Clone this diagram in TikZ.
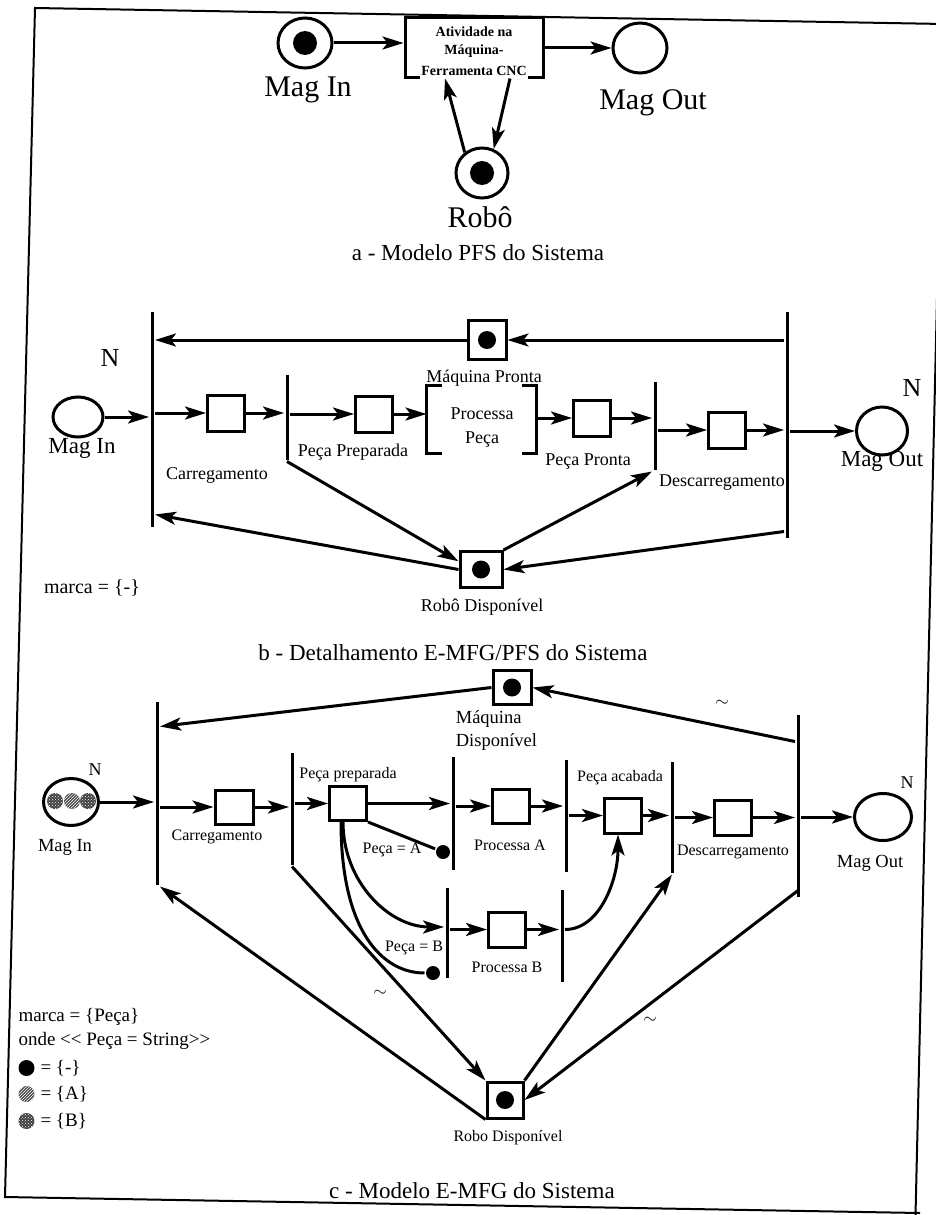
\documentclass[tikz,border=0pt]{standalone}
\usepackage{fontspec}
\setmainfont{Liberation Serif}
\usetikzlibrary{arrows.meta, shapes.geometric, patterns, positioning}

\begin{document}
\begin{tikzpicture}[x=1pt, y=-1pt, line width=3pt,
    arr/.style={-{Stealth[length=21pt, width=13pt, inset=5pt]}},
    magplace/.style={draw, ellipse, inner sep=0pt},
    cond/.style={draw, rectangle, inner sep=0pt, minimum width=37pt, minimum height=36pt},
    tbar/.style={rectangle, fill=black, inner sep=0pt, minimum width=3pt, minimum height=#1},
    tok/.style={circle, fill=black, inner sep=0pt, minimum size=#1},
    tok/.default=18pt,
    tokA/.style={circle, inner sep=0pt, minimum size=#1, fill=black!70,
      postaction={pattern=north east lines, pattern color=white}},
    tokB/.style={circle, inner sep=0pt, minimum size=#1, fill=black!75,
      postaction={pattern=crosshatch dots, pattern color=white}},
    lblA/.style={font=\fontsize{30pt}{32pt}\selectfont},
    capt/.style={font=\fontsize{23pt}{26pt}\selectfont},
    actxt/.style={font=\fontsize{14pt}{16pt}\selectfont\bfseries, inner sep=1pt},
    lblB/.style={font=\fontsize{18pt}{24pt}\selectfont},
    lblMag/.style={font=\fontsize{23pt}{26pt}\selectfont},
    lblC/.style={font=\fontsize{16pt}{18pt}\selectfont},
    lblC2/.style={font=\fontsize{18.5pt}{23pt}\selectfont},
    legtxt/.style={font=\fontsize{19pt}{22pt}\selectfont, inner sep=1pt},
    nbig/.style={font=\fontsize{26pt}{28pt}\selectfont},
    nsmall/.style={font=\fontsize{18pt}{20pt}\selectfont}]

  \useasboundingbox (0,0) rectangle (936,1215);
  \draw[line width=2pt] (944,24) -- (35,8) -- (5,1197) -- (920,1213);
  \draw[line width=2pt] (944,0) -- (915.5,1215);

  % a
  \node[magplace, minimum width=54pt, minimum height=50pt] (magInA) at (305,43) {};
  \node[tok=24pt] (magInAtk) at (magInA) {};
  \node[lblA] (magInAlbl) at (308,90) {Mag In};
  \node[draw, minimum width=138pt, minimum height=59pt] (actA) at (474,47.5) {};
  \node[actxt] (actA1) at (474,32) {Atividade na};
  \node[actxt] (actA2) at (474,51) {Máquina-};
  \node[actxt, fill=white, inner ysep=3pt, anchor=base] (actA3) at (474,76) {Ferramenta CNC};
  \node[magplace, minimum width=54pt, minimum height=50pt] (magOutA) at (640,48) {};
  \node[lblA] (magOutAlbl) at (653,103) {Mag Out};
  \node[magplace, minimum width=52pt, minimum height=50pt] (roboA) at (482,173) {};
  \node[tok=24pt] (roboAtk) at (roboA) {};
  \node[lblA] (roboAlbl) at (480,217) {Robô};
  \node[capt] (captA) at (478,253) {a - Modelo PFS do Sistema};

  \draw[arr] (magInA) -- (magInA -| actA.west);
  \draw[arr] (actA.east |- magOutA) -- (magOutA);
  \draw[arr] (roboA.130) -- ([xshift=-29pt]actA.south);
  \draw[arr] ([xshift=36pt]actA.south) -- (roboA.64);

  % b
  \node[magplace, minimum width=50pt, minimum height=40pt] (magInB) at (78,417) {};
  \node[nbig] (nInB) at (110,358) {N};
  \node[lblMag] (magInBlbl) at (82,448) {Mag In};
  \node[tbar=215pt] (t1B) at (152,419.5) {};
  \node[cond] (carB) at (226,413) {};
  \node[tbar=85pt] (t2B) at (287,417.5) {};
  \node[cond] (prepB) at (374,414) {};
  \node[minimum width=107pt, minimum height=65pt] (procB) at (481.5,419.5) {};
  \node[lblB, align=center] (procBlbl) at (482,428) {Processa\\Peça};
  \node[cond] (prontaB) at (592,418) {};
  \node[tbar=88pt] (t3B) at (655,426) {};
  \node[cond] (desB) at (727,430) {};
  \node[tbar=226pt] (t4B) at (787,425) {};
  \node[magplace, minimum width=51pt, minimum height=48pt] (magOutB) at (882,431) {};
  \node[nbig] (nOutB) at (912,388) {N};
  \node[lblMag] (magOutBlbl) at (882,461) {Mag Out};
  \node[cond, minimum width=38pt, minimum height=39pt] (maqB) at (487,340) {};
  \node[tok] (maqBtk) at (maqB) {};
  \node[lblB] (maqBlbl) at (484,378) {Máquina Pronta};
  \node[cond, minimum width=42pt, minimum height=36pt] (roboB) at (481,569.5) {};
  \node[tok] (roboBtk) at (roboB) {};
  \node[lblB] (roboBlbl) at (482,607) {Robô Disponível};
  \node[lblB] (carBlbl) at (217,475) {Carregamento};
  \node[lblB] (prepBlbl) at (353,452) {Peça Preparada};
  \node[lblB] (prontaBlbl) at (588,462) {Peça Pronta};
  \node[lblB] (desBlbl) at (722,483) {Descarregamento};
  \node[font=\fontsize{20pt}{22pt}\selectfont] (legB) at (92,588) {marca = \{-\}};
  \node[capt] (captB) at (453,653) {b - Detalhamento E-MFG/PFS do Sistema};

  \draw (procB.north west) ++(15,0) -- (procB.north west) -- (procB.south west) -- ++(15,0);
  \draw (procB.north east) ++(-15,0) -- (procB.north east) -- (procB.south east) -- ++(-15,0);

  \draw[arr] (magInB) -- (magInB -| t1B.west);
  \draw[arr] (t1B.east |- carB) -- (carB);
  \draw[arr] (carB) -- (carB -| t2B.west);
  \draw[arr] (t2B.east |- prepB) -- (prepB);
  \draw[arr] (prepB) -- (prepB -| procB.west);
  \draw[arr] (procB.east |- prontaB) -- (prontaB);
  \draw[arr] (prontaB) -- (prontaB -| t3B.west);
  \draw[arr] (t3B.east |- desB) -- (desB);
  \draw[arr] (desB) -- (desB -| t4B.west);
  \draw[arr] (t4B.east |- magOutB) -- (magOutB);
  \draw[arr] (maqB) -- (maqB -| t1B.east);
  \draw[arr] (t4B.west |- maqB) -- (maqB);
  \draw[arr] (t2B.south) -- (roboB.160);
  \draw[arr] (roboB.west) -- ([yshift=14pt]t1B.south east);
  \draw[arr] (roboB.north east) -- (t3B.south west);
  \draw[arr] ([yshift=8pt]t4B.south west) -- (roboB.east);

  % c
  \node[magplace, minimum width=55pt, minimum height=47pt] (magInC) at (71,802) {};
  \node[tokB=16pt] (tkC1) at (55,801) {};
  \node[tokA=16pt] (tkC2) at (72,801) {};
  \node[tokB=16pt] (tkC3) at (88,801) {};
  \node[nsmall] (nInC) at (95,770) {N};
  \node[lblC2] (magInClbl) at (65,847) {Mag In};
  \node[tbar=183pt] (t1C) at (157,793.5) {};
  \node[cond, minimum width=38pt, minimum height=34pt] (carC) at (234,807) {};
  \node[lblC] (carClbl) at (217,837) {Carregamento};
  \node[tbar=112pt] (t2C) at (292,809) {};
  \node[cond, minimum height=34pt] (prepC) at (348,803.5) {};
  \node[lblC] (prepClbl) at (348,775) {Peça preparada};
  \node[tbar=113pt] (t3aC) at (453,813.5) {};
  \node[cond, minimum height=34pt] (procAC) at (511,806) {};
  \node[lblC] (procAClbl) at (510,845) {Processa A};
  \node[tbar=112pt] (t4aC) at (566,816) {};
  \node[cond, minimum height=35pt] (acabC) at (623,815.5) {};
  \node[lblC] (acabClbl) at (620,778) {Peça acabada};
  \node[tbar=111pt] (t5C) at (672,817.5) {};
  \node[cond, minimum height=35pt] (desC) at (733,817.5) {};
  \node[lblC] (desClbl) at (733,852) {Descarregamento};
  \node[tbar=182pt] (t6C) at (798,806) {};
  \node[magplace, minimum width=57pt, minimum height=47pt] (magOutC) at (883,817) {};
  \node[nsmall] (nOutC) at (907,783) {N};
  \node[lblC2] (magOutClbl) at (870,863) {Mag Out};
  \node[cond, minimum width=38pt, minimum height=34pt] (maqC) at (512,687.5) {};
  \node[tok] (maqCtk) at (maqC) {};
  \node[lblC2, align=left, anchor=west] (maqClbl) at (451,731) {Máquina\\Disponível};
  \node[tbar=90pt] (t3bC) at (447,933) {};
  \node[cond, minimum height=35pt] (procBC) at (507,929.5) {};
  \node[lblC] (procBClbl) at (507,967) {Processa B};
  \node[tbar=92pt] (t4bC) at (562,936) {};
  \node[tok=14pt] (dotA) at (443,852) {};
  \node[lblC] (dotAlbl) at (392,850) {Peça = A};
  \node[tok=14pt] (dotB) at (433,973) {};
  \node[lblC] (dotBlbl) at (414,948) {Peça = B};
  \node[cond, minimum width=36pt] (roboC) at (505,1100) {};
  \node[tok] (roboCtk) at (roboC) {};
  \node[lblC] (roboClbl) at (508,1138) {Robo Disponível};
  \node[lblC] (tilde1) at (380,993) {$\sim$};
  \node[lblC] (tilde2) at (650,1020) {$\sim$};
  \node[lblC] (tilde3) at (722,703) {$\sim$};
  \node[legtxt, anchor=west] (legC1) at (16,1017) {marca = \{Peça\}};
  \node[legtxt, anchor=west] (legC2) at (16,1041) {onde <\kern0pt< Peça = String>\kern0pt>};
  \node[tok=16pt, anchor=west] (legC3m) at (17,1068) {};
  \node[legtxt, right=2pt of legC3m] (legC3) {= \{-\}};
  \node[tokA=16pt, anchor=west] (legC4m) at (17,1094) {};
  \node[legtxt, right=2pt of legC4m] (legC4) {= \{A\}};
  \node[tokB=16pt, anchor=west] (legC5m) at (17,1121) {};
  \node[legtxt, right=2pt of legC5m] (legC5) {= \{B\}};
  \node[capt] (captC) at (472,1191) {c - Modelo E-MFG do Sistema};

  \draw[arr] (magInC) -- (magInC -| t1C.west);
  \draw[arr] (t1C.east |- carC) -- (carC);
  \draw[arr] (carC) -- (carC -| t2C.west);
  \draw[arr] (t2C.east |- prepC) -- (prepC);
  \draw[arr] (prepC) -- (prepC -| t3aC.west);
  \draw[arr] (t3aC.east |- procAC) -- (procAC);
  \draw[arr] (procAC) -- (procAC -| t4aC.west);
  \draw[arr] (t4aC.east |- acabC) -- (acabC);
  \draw[arr] (acabC) -- (acabC -| t5C.west);
  \draw[arr] (t5C.east |- desC) -- (desC);
  \draw[arr] (desC) -- (desC -| t6C.west);
  \draw[arr] (t6C.east |- magOutC) -- (magOutC);
  \draw[arr] (maqC.west) -- ([yshift=-26pt]t1C.north east);
  \draw[arr] ([yshift=-28pt]t6C.north west) -- (maqC.east);
  \draw (prepC.south east) -- (dotA);
  \draw[arr] ([xshift=-5pt]prepC.south) .. controls +(0,60) and +(-55,0) .. ([yshift=6pt]t3bC.west);
  \draw ([xshift=-7pt]prepC.south) .. controls +(0,110) and +(-50,0) .. (dotB);
  \draw[arr] (t3bC.east |- procBC) -- (procBC);
  \draw[arr] (procBC) -- (procBC -| t4bC.west);
  \draw[arr] (t4bC.east |- procBC) .. controls +(35,0) and +(0,45) .. ([xshift=-5pt]acabC.south);
  \draw[arr] (roboC.south west) -- (t1C.south east);
  \draw[arr] (t2C.south) -- (roboC.north west);
  \draw[arr] (roboC.north east) -- (t5C.south);
  \draw[arr] ([yshift=8pt]t6C.south) -- (roboC.east);
\end{tikzpicture}
\end{document}
